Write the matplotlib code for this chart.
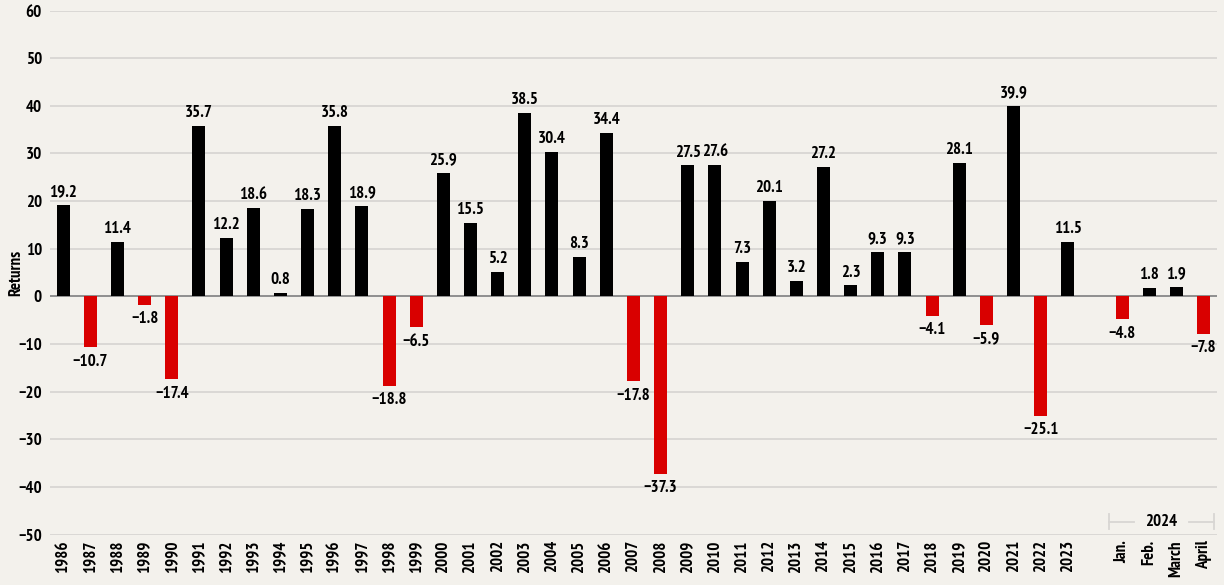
"""Annual returns 1986-2023 plus 2024 monthly returns, as a bar chart."""

import matplotlib
matplotlib.use("Agg")
import matplotlib.pyplot as plt
from matplotlib import font_manager
from matplotlib.transforms import blended_transform_factory
import numpy as np

YEARS = [str(y) for y in range(1986, 2024)]
YEAR_RETURNS = [
    19.2, -10.7, 11.4, -1.8, -17.4, 35.7, 12.2, 18.6, 0.8, 18.3,
    35.8, 18.9, -18.8, -6.5, 25.9, 15.5, 5.2, 38.5, 30.4, 8.3,
    34.4, -17.8, -37.3, 27.5, 27.6, 7.3, 20.1, 3.2, 27.2, 2.3,
    9.3, 9.3, -4.1, 28.1, -5.9, 39.9, -25.1, 11.5,
]
MONTHS = ["Jan.", "Feb.", "March", "April"]
MONTH_RETURNS = [-4.8, 1.8, 1.9, -7.8]
MONTH_GROUP_LABEL = "2024"

Y_TICKS = list(range(-50, 70, 10))

BG = "#f3f1ec"
GRID = "#d8d6d3"
POS_COLOR = "#000000"
NEG_COLOR = "#d90000"

# a condensed bold face, close to the original's look
PREFERRED = [
    "PT Sans Narrow", "Fira Sans Condensed", "Roboto Condensed",
    "Asap Condensed", "Encode Sans Condensed", "Archivo Narrow",
    "Liberation Sans Narrow",
]
installed = {f.name for f in font_manager.fontManager.ttflist}
FAMILY = [f for f in PREFERRED if f in installed][:1] + ["DejaVu Sans"]
plt.rcParams["font.family"] = FAMILY
plt.rcParams["font.weight"] = "bold"
FS = 12.2


def fmt(v):
    return f"{v:.1f}".replace("-", "\u2212")


# years first, then one empty slot, then the months
labels = YEARS + MONTHS
values = np.array(YEAR_RETURNS + MONTH_RETURNS)
positions = np.concatenate([
    np.arange(len(YEARS)),
    np.arange(len(MONTHS)) + len(YEARS) + 1,
])

fig = plt.figure(figsize=(12.24, 5.85), dpi=100, facecolor=BG)
ax = fig.add_axes([0.041, 0.086, 0.953, 0.896], facecolor=BG)

colors = [POS_COLOR if v >= 0 else NEG_COLOR for v in values]
ax.bar(positions, values, width=0.48, color=colors, zorder=3)

for x, v in zip(positions, values):
    if v >= 0:
        ax.annotate(fmt(v), (x, v), xytext=(0, 3.5), textcoords="offset points",
                    ha="center", va="bottom", fontsize=FS, fontweight="bold")
    else:
        ax.annotate(fmt(v), (x, v), xytext=(0, -4.5), textcoords="offset points",
                    ha="center", va="top", fontsize=FS, fontweight="bold")

ax.set_ylim(-50, 60)
ax.set_xlim(positions[0] - 0.48, positions[-1] + 0.48)
ax.set_yticks(Y_TICKS)
ax.set_yticklabels([str(t).replace("-", "\u2212") for t in Y_TICKS],
                   fontsize=FS, fontweight="bold")
ax.set_xticks(positions)
ax.set_xticklabels(labels, rotation=90, fontsize=FS, fontweight="bold")
ax.tick_params(length=0, pad=6)
ax.tick_params(axis="x", pad=4)

ax.grid(axis="y", color=GRID, linewidth=1.3, zorder=0)
ax.axhline(0, color="#8a8a8a", linewidth=1.3, zorder=2)
for s in ax.spines.values():
    s.set_visible(False)

ax.set_ylabel("Returns", fontsize=FS, fontweight="bold")
ax.yaxis.set_label_coords(-0.0225, 0.5)

# bracket over the 2024 months
trans = blended_transform_factory(ax.transData, ax.transAxes)
x0 = positions[len(YEARS)] - 0.5
x1 = positions[-1] + 0.4
yb = 0.025
xm = (x0 + x1) / 2
ax.plot([x0, xm - 1.0], [yb, yb], color=GRID, lw=1.3, transform=trans, clip_on=False)
ax.plot([xm + 1.0, x1], [yb, yb], color=GRID, lw=1.3, transform=trans, clip_on=False)
ax.plot([x0, x0], [yb - 0.015, yb + 0.015], color=GRID, lw=1.3, transform=trans, clip_on=False)
ax.plot([x1, x1], [yb - 0.015, yb + 0.015], color=GRID, lw=1.3, transform=trans, clip_on=False)
ax.text(xm, yb, MONTH_GROUP_LABEL, transform=trans, ha="center", va="center",
        fontsize=FS, fontweight="bold")

fig.savefig("out.png", dpi=100, facecolor=BG)
